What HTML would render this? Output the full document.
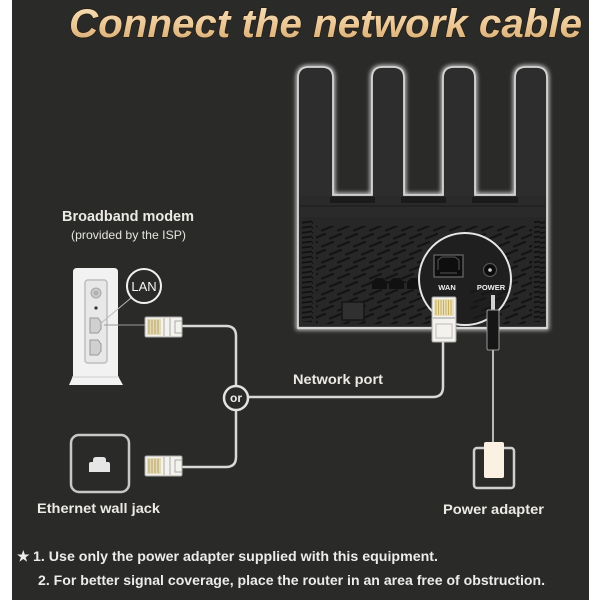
<!DOCTYPE html>
<html><head><meta charset="utf-8">
<style>
html,body{margin:0;padding:0;background:#fff;}
svg{display:block;}
text{font-family:"Liberation Sans",Arial,sans-serif;}
</style></head>
<body>
<svg width="600" height="600" viewBox="0 0 600 600" xmlns="http://www.w3.org/2000/svg">
<defs>
  <linearGradient id="gold" x1="0" y1="0" x2="0" y2="1">
    <stop offset="0" stop-color="#f8e4c0"/>
    <stop offset="0.5" stop-color="#ecc998"/>
    <stop offset="1" stop-color="#d2a66c"/>
  </linearGradient>
  <filter id="glow" x="-10%" y="-10%" width="120%" height="120%">
    <feGaussianBlur stdDeviation="2.2"/>
  </filter>
  <pattern id="vent" width="16" height="16" patternUnits="userSpaceOnUse">
    <line x1="2" y1="6.5" x2="13" y2="2" stroke="#131313" stroke-width="2.2" stroke-linecap="round"/>
    <line x1="10" y1="14.5" x2="21" y2="10" stroke="#131313" stroke-width="2.2" stroke-linecap="round"/>
    <line x1="-6" y1="14.5" x2="5" y2="10" stroke="#131313" stroke-width="2.2" stroke-linecap="round"/>
  </pattern>
  <pattern id="grill" width="12" height="5" patternUnits="userSpaceOnUse">
    <line x1="0" y1="3" x2="12" y2="1.5" stroke="#111" stroke-width="1.8"/>
  </pattern>
  <clipPath id="circClip"><circle cx="465" cy="279" r="45"/></clipPath>
</defs>

<rect x="0" y="0" width="600" height="600" fill="#ffffff"/>
<rect x="12" y="0" width="577" height="600" fill="#2a2a29"/>

<!-- Title -->
<text x="69" y="37" font-size="40" font-weight="bold" font-style="italic" fill="url(#gold)" stroke="#2a1c0c" stroke-width="1.4" paint-order="stroke" textLength="513" lengthAdjust="spacingAndGlyphs">Connect the network cable</text>

<!-- Router -->
<path d="M298,328 L298,78 Q298,67 309,67 L322,67 Q333,67 333,78 L333,195 L372,195 L372,78 Q372,67 383,67 L393,67 Q404,67 404,78 L404,195 L443,195 L443,78 Q443,67 454,67 L464,67 Q475,67 475,78 L475,195 L515,195 L515,78 Q515,67 526,67 L536,67 Q547,67 547,78 L547,328 Z" fill="none" stroke="#ffffff" stroke-width="4" filter="url(#glow)" opacity="0.8"/>
<path d="M298,328 L298,78 Q298,67 309,67 L322,67 Q333,67 333,78 L333,195 L372,195 L372,78 Q372,67 383,67 L393,67 Q404,67 404,78 L404,195 L443,195 L443,78 Q443,67 454,67 L464,67 Q475,67 475,78 L475,195 L515,195 L515,78 Q515,67 526,67 L536,67 Q547,67 547,78 L547,328 Z" fill="#2d2d2d" stroke="#d6d6d6" stroke-width="1.8"/>

<!-- body -->
<rect x="299" y="196" width="247" height="131" fill="#2a2a2a"/>
<rect x="330" y="197" width="45" height="6" fill="#1a1a1a"/>
<rect x="401" y="197" width="45" height="6" fill="#1a1a1a"/>
<rect x="472" y="197" width="46" height="6" fill="#1a1a1a"/>
<line x1="300" y1="206" x2="545" y2="206" stroke="#1e1e1e" stroke-width="1.2"/>
<rect x="301" y="217" width="244" height="109" fill="#272727"/>
<rect x="302" y="220" width="11" height="102" fill="url(#grill)"/>
<rect x="534" y="220" width="11" height="102" fill="url(#grill)"/>
<rect x="316" y="226" width="216" height="98" fill="url(#vent)"/>
<!-- small ports -->
<path d="M372,289 L372,282 L376,278 L383,278 L387,282 L387,289 Z" fill="#111"/>
<path d="M389,289 L389,282 L393,278 L400,278 L404,282 L404,289 Z" fill="#111"/>
<path d="M407,289 L407,282 L411,278 L416,278 L420,282 L420,289 Z" fill="#111"/>
<rect x="342" y="302" width="22" height="18" fill="#303030" stroke="#161616" stroke-width="1.5"/>
<!-- bottom light band -->
<line x1="298" y1="328" x2="547" y2="328" stroke="#ffffff" stroke-width="4" filter="url(#glow)" opacity="0.7"/>
<line x1="298" y1="328" x2="547" y2="328" stroke="#d8d8d8" stroke-width="2.2"/>

<!-- magnifier -->
<circle cx="465" cy="279" r="46" fill="#1f1f1f"/>
<g clip-path="url(#circClip)">
  <rect x="470" y="290" width="60" height="40" fill="url(#vent)" opacity="0.7"/>
</g>
<circle cx="465" cy="279" r="46" fill="none" stroke="#e6e6e6" stroke-width="2"/>
<rect x="434" y="255" width="29" height="22" fill="#0e0e0e" stroke="#6a6a6a" stroke-width="1.2"/>
<path d="M438,270 L438,260 L442,257 L455,257 L459,260 L459,270" fill="none" stroke="#555" stroke-width="1"/>
<line x1="440" y1="273" x2="457" y2="273" stroke="#555" stroke-width="1"/>
<circle cx="490" cy="270" r="6.5" fill="#0c0c0c" stroke="#555" stroke-width="1.2"/>
<circle cx="490" cy="270" r="1.8" fill="#cfcfcf"/>
<text x="447" y="290" font-size="7.5" font-weight="bold" fill="#f0f0f0" text-anchor="middle">WAN</text>
<text x="491" y="290" font-size="7.5" font-weight="bold" fill="#f0f0f0" text-anchor="middle">POWER</text>

<!-- vertical RJ45 plug at router -->
<rect x="432" y="297" width="24" height="45" rx="1.5" fill="#f4f2ec" stroke="#a8a8a8" stroke-width="1"/>
<rect x="434" y="299" width="20" height="17" fill="#e9dfb8"/>
<g stroke="#c9b060" stroke-width="1">
  <line x1="436" y1="300" x2="436" y2="315"/><line x1="438.5" y1="300" x2="438.5" y2="315"/>
  <line x1="441" y1="300" x2="441" y2="315"/><line x1="443.5" y1="300" x2="443.5" y2="315"/>
  <line x1="446" y1="300" x2="446" y2="315"/><line x1="448.5" y1="300" x2="448.5" y2="315"/>
  <line x1="451" y1="300" x2="451" y2="315"/>
</g>
<line x1="433" y1="318" x2="455" y2="318" stroke="#999" stroke-width="1"/>
<rect x="436" y="324" width="16" height="14" fill="none" stroke="#bbb" stroke-width="1"/>

<!-- power plug -->
<rect x="491" y="295" width="4" height="15" fill="#d0d0d0"/>
<rect x="487" y="310" width="12" height="40" rx="1.5" fill="#161616" stroke="#9a9a9a" stroke-width="1"/>
<line x1="493" y1="350" x2="493" y2="442" stroke="#b8b8b8" stroke-width="2"/>

<!-- power adapter -->
<rect x="474" y="448" width="40" height="40" rx="3" fill="none" stroke="#cfcfcf" stroke-width="2.5"/>
<rect x="484" y="442" width="20" height="36" rx="2" fill="#fbf1e2"/>

<!-- network cable -->
<path d="M443,342 L443,387 Q443,397 433,397 L248,397" fill="none" stroke="#d8d8d8" stroke-width="2.5"/>
<path d="M182,326 L226,326 Q236,326 236,336 L236,386" fill="none" stroke="#d8d8d8" stroke-width="2.5"/>
<path d="M182,467 L226,467 Q236,467 236,457 L236,410" fill="none" stroke="#d8d8d8" stroke-width="2.5"/>

<circle cx="236" cy="398" r="12" fill="#2a2a29" stroke="#e2e2e2" stroke-width="2.5"/>
<text x="236" y="402" font-size="12" font-weight="bold" fill="#eeeeee" text-anchor="middle">or</text>

<text x="293" y="384" font-size="14" font-weight="bold" fill="#eceae4" textLength="90" lengthAdjust="spacingAndGlyphs">Network port</text>

<!-- Modem -->
<text x="62" y="221" font-size="14.5" font-weight="bold" fill="#eceae4" textLength="132" lengthAdjust="spacingAndGlyphs">Broadband modem</text>
<text x="71" y="239" font-size="12" fill="#e6e4de" textLength="115" lengthAdjust="spacingAndGlyphs">(provided by the ISP)</text>

<path d="M73,376 L73,272 Q73,268 77,268 L114,268 Q118,268 118,272 L118,376 L123,385 L69,385 Z" fill="#f2f2f2"/>
<line x1="72" y1="377" x2="119" y2="377" stroke="#cfcfcf" stroke-width="1"/>
<rect x="85" y="280" width="22" height="83" rx="3" fill="#e8e8e8" stroke="#bdbdbd" stroke-width="1.5"/>
<circle cx="96" cy="293" r="5" fill="#cacaca" stroke="#a8a8a8" stroke-width="1"/>
<circle cx="96" cy="293" r="2.3" fill="#b0b0b0"/>
<circle cx="96" cy="308" r="1.6" fill="#333"/>
<path d="M90,318 L98,318 L101,322 L101,329 L98,333 L90,333 Z" fill="#d0d0d0" stroke="#999" stroke-width="1"/>
<path d="M90,340 L98,340 L101,344 L101,351 L98,355 L90,355 Z" fill="#d0d0d0" stroke="#999" stroke-width="1"/>
<line x1="131" y1="298" x2="100" y2="324" stroke="#bbbbbb" stroke-width="1"/>
<line x1="104" y1="325" x2="145" y2="325" stroke="#9a9a9a" stroke-width="1"/>

<circle cx="144" cy="286" r="17" fill="#2a2a29" stroke="#f2f2f2" stroke-width="2"/>
<text x="144" y="291" font-size="13" fill="#f4f4f4" text-anchor="middle">LAN</text>

<!-- modem plug -->
<g>
  <rect x="145" y="317" width="37" height="20" rx="1.5" fill="#f4f2ec" stroke="#a8a8a8" stroke-width="1"/>
  <rect x="147" y="319" width="14" height="16" fill="#e4dbb6"/>
  <g stroke="#b8a465" stroke-width="1">
    <line x1="149" y1="320" x2="149" y2="334"/><line x1="152" y1="320" x2="152" y2="334"/>
    <line x1="155" y1="320" x2="155" y2="334"/><line x1="158" y1="320" x2="158" y2="334"/>
  </g>
  <line x1="164" y1="318" x2="164" y2="336" stroke="#aaa" stroke-width="1"/>
  <line x1="170" y1="318" x2="170" y2="336" stroke="#aaa" stroke-width="1"/>
  <rect x="175" y="321" width="7" height="12" fill="none" stroke="#aaa" stroke-width="1"/>
</g>

<!-- Wall jack -->
<rect x="71" y="435" width="58" height="57" rx="8" fill="none" stroke="#c8c8c8" stroke-width="2.5"/>
<path d="M89,472 L89,464 Q89,462 91,462 L93,462 L93,460 Q93,457 96,457 L103,457 Q106,457 106,460 L106,462 L108,462 Q110,462 110,464 L110,472 Z" fill="#e6e6e6"/>
<g>
  <rect x="145" y="456" width="37" height="20" rx="1.5" fill="#f4f2ec" stroke="#a8a8a8" stroke-width="1"/>
  <rect x="147" y="458" width="14" height="16" fill="#e4dbb6"/>
  <g stroke="#b8a465" stroke-width="1">
    <line x1="149" y1="459" x2="149" y2="473"/><line x1="152" y1="459" x2="152" y2="473"/>
    <line x1="155" y1="459" x2="155" y2="473"/><line x1="158" y1="459" x2="158" y2="473"/>
  </g>
  <line x1="164" y1="457" x2="164" y2="475" stroke="#aaa" stroke-width="1"/>
  <line x1="170" y1="457" x2="170" y2="475" stroke="#aaa" stroke-width="1"/>
  <rect x="175" y="460" width="7" height="12" fill="none" stroke="#aaa" stroke-width="1"/>
</g>

<text x="37" y="513" font-size="14" font-weight="bold" fill="#eceae4" textLength="123" lengthAdjust="spacingAndGlyphs">Ethernet wall jack</text>
<text x="443" y="514" font-size="14" font-weight="bold" fill="#eceae4" textLength="101" lengthAdjust="spacingAndGlyphs">Power adapter</text>

<!-- Notes -->
<text x="17" y="561" font-size="14" font-weight="bold" fill="#ececec">★</text>
<text x="33" y="561" font-size="13.5" font-weight="bold" fill="#ececec" textLength="405" lengthAdjust="spacingAndGlyphs">1. Use only the power adapter supplied with this equipment.</text>
<text x="38" y="585" font-size="13.5" font-weight="bold" fill="#ececec" textLength="507" lengthAdjust="spacingAndGlyphs">2. For better signal coverage, place the router in an area free of obstruction.</text>
</svg>
</body></html>
